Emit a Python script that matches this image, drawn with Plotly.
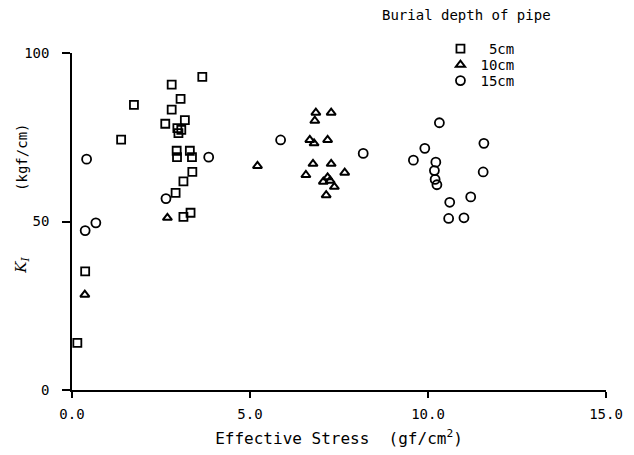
import plotly.graph_objects as go

# Effective stress (gf/cm^2) and K_I (kgf/cm) per burial depth
x_5cm = [3.66, 2.80, 1.74, 3.05, 2.80, 2.62, 3.17, 2.96, 3.07, 2.99, 1.38,
         2.94, 3.31, 2.95, 3.37, 3.38, 3.13, 2.91, 3.33, 3.13, 0.37, 0.15]
y_5cm = [92.9, 90.6, 84.6, 86.4, 83.2, 79.0, 80.1, 77.7, 77.2, 76.2, 74.3,
         71.0, 71.0, 69.1, 69.1, 64.7, 61.9, 58.5, 52.6, 51.4, 35.2, 14.0]

x_10cm = [6.85, 7.28, 6.82, 6.68, 6.80, 7.18, 5.21, 6.77, 7.28, 6.57, 7.66,
          7.06, 7.18, 7.25, 7.37, 7.14, 2.68, 0.36]
y_10cm = [82.3, 82.3, 79.9, 74.2, 73.2, 74.2, 66.5, 67.1, 67.1, 63.8, 64.5,
          61.8, 63.1, 62.1, 60.3, 57.8, 51.1, 28.3]

x_15cm = [0.41, 3.84, 2.64, 0.37, 0.67, 5.86, 8.18, 10.32, 11.57, 9.91, 9.59,
          10.22, 10.18, 11.55, 10.20, 10.25, 11.20, 10.61, 10.58, 11.01]
y_15cm = [68.5, 69.1, 56.8, 47.3, 49.6, 74.2, 70.2, 79.3, 73.2, 71.7, 68.2,
          67.6, 65.1, 64.7, 62.5, 60.9, 57.3, 55.7, 50.9, 51.1]

x_ticks = [0, 5, 10, 15]
x_tick_labels = ["0.0", "5.0", "10.0", "15.0"]
y_ticks = [0, 50, 100]
y_tick_labels = ["0", "50", "100"]

FONT = "DejaVu Sans Mono"
LEG_FONT = dict(family=FONT, size=14, color="black")

fig = go.Figure()
fig.add_trace(go.Scatter(x=x_5cm, y=y_5cm, mode="markers", name=" 5cm",
                         legend="legend",
                         marker=dict(symbol="square-open", size=8, color="black",
                                     line=dict(width=1.8, color="black"))))
fig.add_trace(go.Scatter(x=x_10cm, y=y_10cm, mode="markers", name="10cm",
                         legend="legend2",
                         marker=dict(symbol="triangle-up-open", size=8, color="black",
                                     line=dict(width=2, color="black"))))
fig.add_trace(go.Scatter(x=x_15cm, y=y_15cm, mode="markers", name="15cm",
                         legend="legend3",
                         marker=dict(symbol="circle-open", size=9, color="black",
                                     line=dict(width=1.8, color="black"))))

leg_common = dict(x=0.690, xanchor="left", yanchor="middle", font=LEG_FONT,
                  bgcolor="rgba(0,0,0,0)", borderwidth=0)

# page body has an 8px margin, so the figure is sized/offset to compensate
fig.update_layout(
    width=626, height=447,
    margin=dict(l=64, r=28, t=45, b=65, autoexpand=False),
    plot_bgcolor="white", paper_bgcolor="white",
    font=dict(family=FONT, size=14, color="black"),
    showlegend=True,
    legend=dict(y=1.012, **leg_common),
    legend2=dict(y=0.964, **leg_common),
    legend3=dict(y=0.917, **leg_common),
    xaxis=dict(range=[0, 15], tickvals=x_ticks, ticktext=x_tick_labels,
               showline=True, linecolor="black", linewidth=1.5,
               ticks="outside", ticklen=6, tickwidth=1.5, tickcolor="black",
               ticklabelstandoff=4, automargin=False,
               showgrid=False, zeroline=False, mirror=False,
               title=dict(text="Effective Stress  (gf/cm<sup>2</sup>)",
                          font=dict(family=FONT, size=16), standoff=12)),
    yaxis=dict(range=[0, 100], tickvals=y_ticks, ticktext=y_tick_labels,
               showline=True, linecolor="black", linewidth=1.5,
               ticks="outside", ticklen=8, tickwidth=1.5, tickcolor="black",
               ticklabelstandoff=10, automargin=False,
               showgrid=False, zeroline=False, mirror=False),
    annotations=[
        dict(text="Burial depth of pipe", xref="paper", yref="paper",
             x=0.577, y=1.113, xanchor="left", yanchor="middle",
             showarrow=False, font=dict(family=FONT, size=14)),
        dict(text="(kgf/cm)", xref="paper", yref="paper",
             x=-0.094, y=0.691, xanchor="center", yanchor="middle",
             textangle=-90, showarrow=False, font=dict(family=FONT, size=14)),
        dict(text="<i>K</i><sub><i>I</i></sub>", xref="paper", yref="paper",
             x=-0.094, y=0.371, xanchor="center", yanchor="middle",
             textangle=-90, showarrow=False,
             font=dict(family="DejaVu Serif", size=15)),
    ],
)

fig.write_html("out.html")
